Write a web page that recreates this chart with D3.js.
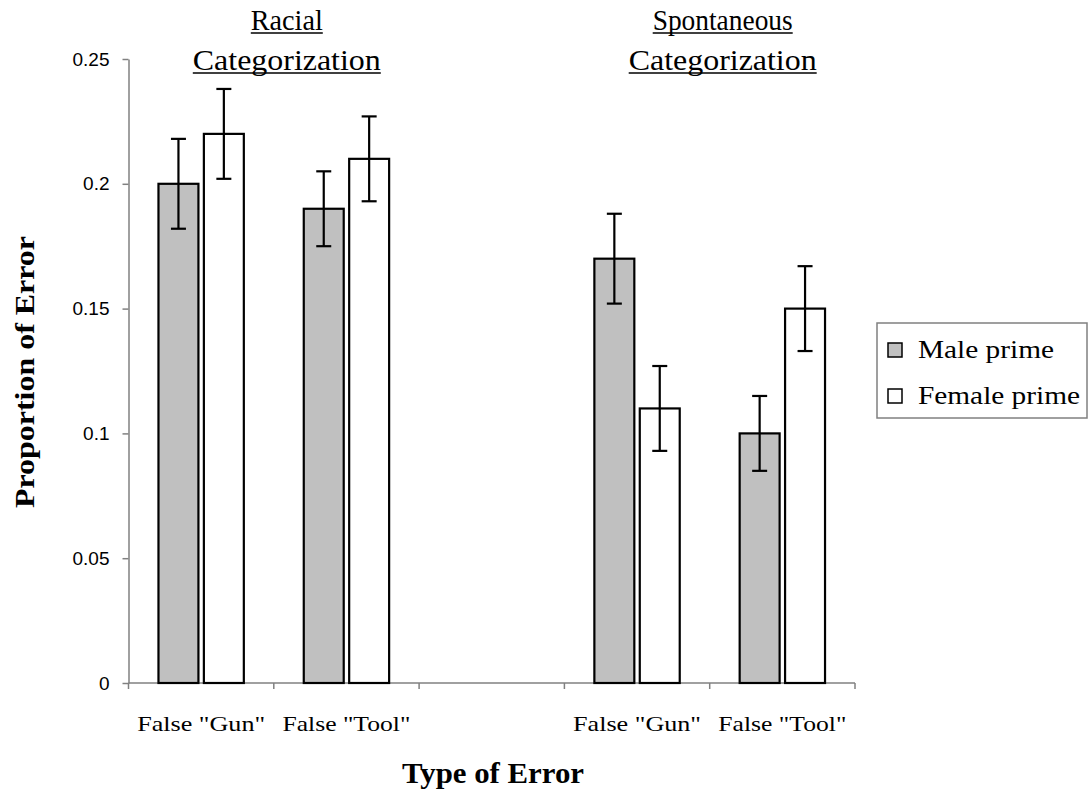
<!DOCTYPE html>
<html>
<head>
<meta charset="utf-8">
<script src="https://cdn.jsdelivr.net/npm/d3@7"></script>
<style>
  html, body { margin: 0; padding: 0; background: #fff; }
  svg { display: block; }
  .serif { font-family: "Liberation Serif", "Times New Roman", serif; fill: #000; }
  .sans { font-family: "Liberation Sans", Arial, sans-serif; fill: #000; }
</style>
</head>
<body>
<svg id="chart" width="1088" height="798"></svg>
<script>
// Error proportions by prime gender, for two categorization tasks
const slots = ["racialGun", "racialTool", "spacer", "spontGun", "spontTool"];
const slotLabels = ['False "Gun"', 'False "Tool"', "", 'False "Gun"', 'False "Tool"'];
const malePrime = [0.20, 0.19, null, 0.17, 0.10];
const femalePrime = [0.22, 0.21, null, 0.11, 0.15];
const maleError = [0.018, 0.015, null, 0.018, 0.015];
const femaleError = [0.018, 0.017, null, 0.017, 0.017];
const yTicks = [0, 0.05, 0.1, 0.15, 0.2, 0.25];
const seriesNames = ["Male prime", "Female prime"];
const seriesFills = ["#c0c0c0", "#ffffff"];
const panelTitles = [
  { slots: ["racialGun", "racialTool"], lines: ["Racial", "Categorization"] },
  { slots: ["spontGun", "spontTool"], lines: ["Spontaneous", "Categorization"] }
];

const svg = d3.select("#chart");
const plot = { left: 128.5, right: 855, top: 59, bottom: 683 };

const x = d3.scaleBand().domain(slots).range([plot.left, plot.right]).padding(0);
const xSeries = d3.scaleBand().domain(seriesNames).range([0, x.bandwidth()])
  .paddingInner(0.12).paddingOuter(0.66);
const y = d3.scaleLinear().domain([0, 0.25]).range([plot.bottom, plot.top]);

const rows = slots.map((s, i) => ({
  slot: s,
  values: [
    { name: seriesNames[0], v: malePrime[i], e: maleError[i], fill: seriesFills[0] },
    { name: seriesNames[1], v: femalePrime[i], e: femaleError[i], fill: seriesFills[1] }
  ].filter(d => d.v != null)
}));

// Y axis
const yAxis = d3.axisLeft(y).tickValues(yTicks).tickSize(6).tickSizeOuter(0).tickPadding(13)
  .tickFormat(d => d === 0 ? "0" : String(+d.toFixed(2)));
const yg = svg.append("g").attr("transform", `translate(${plot.left},0)`).call(yAxis);
yg.attr("font-size", null).attr("font-family", null);
yg.select(".domain").attr("stroke", "#808080").attr("stroke-width", 1.5);
yg.selectAll(".tick line").attr("stroke", "#808080").attr("stroke-width", 1.5);
yg.selectAll(".tick text").attr("class", "sans").style("font-size", "19px").attr("fill", "#000");

// X axis: baseline with ticks at slot boundaries
const boundaries = slots.map(s => x(s)).concat([x.range()[1]]);
const xg = svg.append("g");
xg.append("line")
  .attr("x1", plot.left).attr("x2", plot.right)
  .attr("y1", y(0)).attr("y2", y(0))
  .attr("stroke", "#808080").attr("stroke-width", 1.5);
xg.selectAll("line.tick").data(boundaries).join("line")
  .attr("class", "tick")
  .attr("x1", d => d).attr("x2", d => d)
  .attr("y1", y(0)).attr("y2", y(0) + 6)
  .attr("stroke", "#808080").attr("stroke-width", 1.5);
xg.selectAll("text.cat").data(slots.map((s, i) => ({ s, label: slotLabels[i] })).filter(d => d.label))
  .join("text")
  .attr("class", "cat serif")
  .attr("x", d => x(d.s) + x.bandwidth() / 2)
  .attr("y", 731)
  .attr("text-anchor", "middle")
  .style("font-size", "22px")
  .attr("textLength", 128)
  .attr("lengthAdjust", "spacingAndGlyphs")
  .text(d => d.label);

// Bars
const groups = svg.append("g").selectAll("g.slot").data(rows).join("g")
  .attr("transform", d => `translate(${x(d.slot)},0)`);

groups.selectAll("rect").data(d => d.values).join("rect")
  .attr("x", d => xSeries(d.name))
  .attr("y", d => y(d.v))
  .attr("width", xSeries.bandwidth())
  .attr("height", d => y(0) - y(d.v))
  .attr("fill", d => d.fill)
  .attr("stroke", "#000")
  .attr("stroke-width", 2.2);

// Error bars
const err = groups.selectAll("g.err").data(d => d.values).join("g").attr("class", "err")
  .attr("transform", d => `translate(${xSeries(d.name) + xSeries.bandwidth() / 2},0)`)
  .attr("stroke", "#000").attr("stroke-width", 2.2);
err.append("line").attr("x1", 0).attr("x2", 0)
  .attr("y1", d => y(d.v + d.e)).attr("y2", d => y(d.v - d.e));
err.append("line").attr("x1", -7.5).attr("x2", 7.5)
  .attr("y1", d => y(d.v + d.e)).attr("y2", d => y(d.v + d.e));
err.append("line").attr("x1", -7.5).attr("x2", 7.5)
  .attr("y1", d => y(d.v - d.e)).attr("y2", d => y(d.v - d.e));

// Panel headings, underlined
const headingWidths = { "Racial": 72, "Spontaneous": 140, "Categorization": 188 };
panelTitles.forEach(p => {
  const cx = (x(p.slots[0]) + x(p.slots[1]) + x.bandwidth()) / 2 + 13;
  p.lines.forEach((line, i) => {
    const baseline = 30 + i * 40;
    const w = headingWidths[line];
    svg.append("text").attr("class", "serif")
      .attr("x", cx).attr("y", baseline)
      .attr("text-anchor", "middle")
      .style("font-size", "29px")
      .attr("textLength", w)
      .attr("lengthAdjust", "spacingAndGlyphs")
      .text(line);
    svg.append("line")
      .attr("x1", cx - w / 2).attr("x2", cx + w / 2)
      .attr("y1", baseline + 3).attr("y2", baseline + 3)
      .attr("stroke", "#000").attr("stroke-width", 1.5);
  });
});

// Axis titles
svg.append("text").attr("class", "serif")
  .attr("x", 493).attr("y", 783)
  .attr("text-anchor", "middle")
  .style("font-size", "30px").style("font-weight", "bold")
  .attr("textLength", 182)
  .attr("lengthAdjust", "spacingAndGlyphs")
  .text("Type of Error");
svg.append("text").attr("class", "serif")
  .attr("transform", "translate(34,372) rotate(-90)")
  .attr("text-anchor", "middle")
  .style("font-size", "28px").style("font-weight", "bold")
  .attr("textLength", 272)
  .attr("lengthAdjust", "spacingAndGlyphs")
  .text("Proportion of Error");

// Legend
const legend = svg.append("g").attr("transform", "translate(877,323)");
legend.append("rect").attr("width", 210).attr("height", 95)
  .attr("fill", "#fff").attr("stroke", "#808080").attr("stroke-width", 1.5);
const legendWidths = [136, 162];
const items = legend.selectAll("g.item").data(seriesNames).join("g")
  .attr("transform", (d, i) => `translate(0,${20 + i * 46})`);
items.append("rect").attr("x", 11).attr("y", 0).attr("width", 14).attr("height", 14)
  .attr("fill", (d, i) => seriesFills[i]).attr("stroke", "#000").attr("stroke-width", 1.5);
items.append("text").attr("class", "serif")
  .attr("x", 41).attr("y", 15)
  .style("font-size", "26px")
  .attr("textLength", (d, i) => legendWidths[i])
  .attr("lengthAdjust", "spacingAndGlyphs")
  .text(d => d);
</script>
</body>
</html>
